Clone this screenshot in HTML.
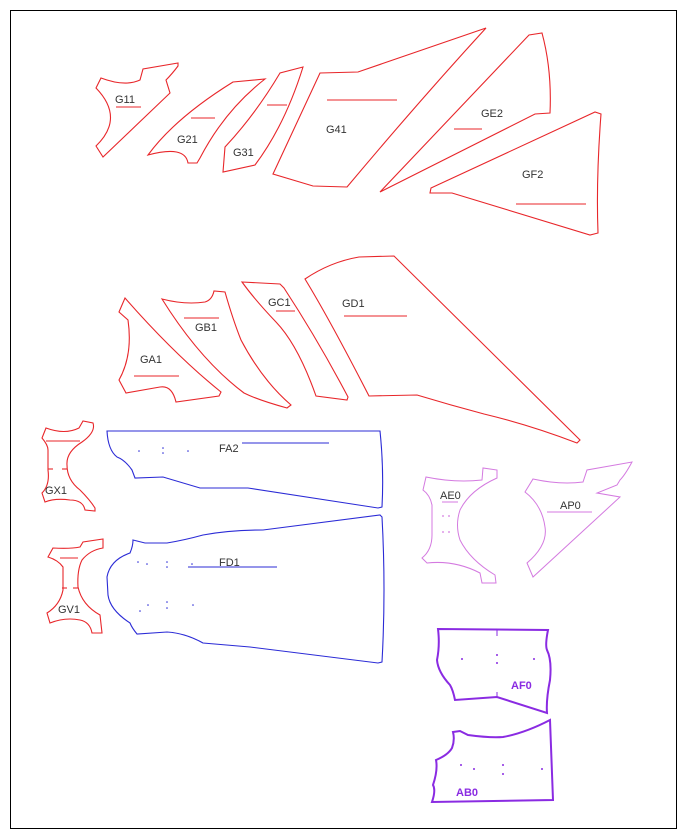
<!DOCTYPE html>
<html><head><meta charset="utf-8"><style>
html,body{margin:0;padding:0;background:#fff;}
svg{display:block;}
text{font-family:"Liberation Sans",sans-serif;font-size:11px;fill:#333;}
</style></head><body>
<svg width="685" height="837" viewBox="0 0 685 837" xmlns="http://www.w3.org/2000/svg">
<rect x="10.5" y="10.5" width="666" height="818" fill="#fff" stroke="#000" stroke-width="1"/>
<g fill="none" stroke="#e8262a" stroke-width="1.1">
<!-- G11 -->
<path d="M101,78 Q125,87 140,80 L143,69 L178,63 L178,66 Q172,74 166,80 L170,93 L103,157 L96,146 Q125,118 96,88 Z"/>
<line x1="116" y1="107" x2="141" y2="107"/>
<!-- G21 -->
<path d="M148,155 Q175,118 233,82 L265,79 Q225,110 200,158 L197,163 L188,163 Q185,145 148,155 Z"/>
<line x1="191" y1="118" x2="215" y2="118"/>
<!-- G31 -->
<path d="M223,172 L225,147 Q255,115 280,73 L303,67 Q285,125 255,165 Z"/>
<line x1="267" y1="105" x2="287" y2="105"/>
<!-- G41 -->
<path d="M273,174 L320,73 L358,72 L486,28 Q420,100 347,187 L313,186 Z"/>
<line x1="327" y1="100" x2="397" y2="100"/>
<!-- GE2 -->
<path d="M380,192 L529,35 L542,33 Q552,70 550,113 L535,114 Z"/>
<line x1="454" y1="129" x2="482" y2="129"/>
<!-- GF2 -->
<path d="M430,193 L431,188 L595,112 L601,114 Q596,180 598,233 L590,235 L452,193 Z"/>
<line x1="516" y1="204" x2="586" y2="204"/>
<!-- GA1 -->
<path d="M119,312 L125,298 Q175,355 221,392 L219,396 L176,402 Q172,385 160,387 L126,393 L119,380 Q133,355 128,320 Z"/>
<line x1="134" y1="376" x2="179" y2="376"/>
<!-- GB1 -->
<path d="M162,299 Q185,305 205,302 Q212,300 214,291 L225,292 Q233,320 241,340 Q262,380 291,405 L287,408 Q258,400 244,393 Q200,360 162,299 Z"/>
<line x1="184" y1="318" x2="219" y2="318"/>
<!-- GC1 -->
<path d="M242,282 L280,284 L284,288 Q318,340 348,397 L347,400 L316,396 Q298,345 276,322 Q255,300 242,282 Z"/>
<line x1="276" y1="311" x2="295" y2="311"/>
<!-- GD1 -->
<path d="M305,279 Q330,262 359,257 L394,256 L580,440 L577,443 Q530,425 484,414 Q450,405 417,395 L369,396 Q330,320 305,279 Z"/>
<line x1="344" y1="316" x2="407" y2="316"/>
<!-- GX1 -->
<path d="M46,428 Q65,435 79,428 L83,421 L93,423 Q96,432 82,442 Q66,452 67,465 Q67,480 80,490 Q90,500 95,508 L95,511 L85,510 Q83,500 70,500 Q55,498 45,502 L42,493 Q50,485 48,470 L48,450 Q48,445 42,438 Z"/>
<line x1="46" y1="441" x2="80" y2="441"/>
<line x1="48" y1="469" x2="53" y2="469"/><line x1="62" y1="469" x2="67" y2="469"/>
<!-- GV1 -->
<path d="M48,557 L53,548 Q70,549 80,547 L83,542 L103,539 L103,548 Q90,550 82,560 Q77,570 78,587 Q82,605 100,615 L102,633 L92,633 Q90,622 80,620 Q65,617 50,623 L47,613 Q60,605 63,590 L63,567 Q58,560 48,557 Z"/>
<line x1="60" y1="558" x2="78" y2="558"/>
<line x1="62" y1="588" x2="67" y2="588"/><line x1="73" y1="588" x2="78" y2="588"/>
</g>
<g fill="none" stroke="#2b2bd6" stroke-width="1.1">
<path d="M107,431 L380,431 Q384,470 382,507 L378,508 L248,488 L200,488 L163,477 L135,478 L132,470 Q125,460 117,457 Q108,450 107,431 Z"/>
<line x1="242" y1="443" x2="329" y2="443"/>
<path d="M133,540 L145,543 L167,543 Q185,540 203,535 Q230,530 263,530 L380,515 L382,517 Q386,590 382,662 L378,663 L250,647 L203,643 Q185,633 167,632 L137,634 Q132,628 130,623 Q110,610 108,595 L107,577 Q110,560 130,553 Q133,546 133,540 Z"/>
<line x1="188" y1="567" x2="277" y2="567"/>
</g>
<g fill="#2b2bd6">
<circle cx="139" cy="451" r="0.8"/><circle cx="163" cy="448" r="0.8"/><circle cx="163" cy="453" r="0.8"/><circle cx="188" cy="451" r="0.8"/>
<circle cx="138" cy="562" r="0.8"/><circle cx="147" cy="564" r="0.8"/><circle cx="167" cy="562" r="0.8"/><circle cx="167" cy="567" r="0.8"/><circle cx="192" cy="564" r="0.8"/>
<circle cx="140" cy="611" r="0.8"/><circle cx="148" cy="605" r="0.8"/><circle cx="167" cy="602" r="0.8"/><circle cx="167" cy="608" r="0.8"/><circle cx="193" cy="605" r="0.8"/>
</g>
<g fill="none" stroke="#d47ae0" stroke-width="1">
<path d="M426,477 Q455,483 482,480 L483,468 L497,470 L497,478 Q470,490 460,510 Q455,525 460,540 Q470,560 495,575 L496,583 L482,583 L480,573 Q455,560 427,563 L422,558 Q432,550 432,535 L432,505 Q430,495 423,490 Z"/>
<line x1="442" y1="502" x2="458" y2="502"/>
<path d="M525,492 L533,479 Q560,485 583,482 L587,470 L632,462 Q625,475 620,480 L617,485 L597,493 L620,497 L533,577 L527,563 Q548,545 545,527 Q542,505 525,492 Z"/>
<line x1="547" y1="512" x2="592" y2="512"/>
</g>
<g fill="#d47ae0">
<circle cx="443" cy="516" r="0.9"/><circle cx="449" cy="516" r="0.9"/><circle cx="443" cy="532" r="0.9"/><circle cx="449" cy="532" r="0.9"/>
</g>
<g fill="none" stroke="#8a2be2" stroke-width="2">
<path d="M438,629 L548,630 Q545,645 547,650 Q552,660 550,680 Q546,700 547,713 L497,697 L455,700 Q453,690 450,685 Q438,672 437,660 Q440,645 438,629 Z"/>
<path d="M453,732 L460,731 L468,735 Q490,738 503,737 Q525,733 550,720 L553,800 L432,802 Q436,790 433,785 Q438,770 436,760 Q448,755 452,748 Q455,740 453,732 Z"/>
<line x1="497" y1="630" x2="497" y2="636" stroke-width="1"/><line x1="497" y1="692" x2="497" y2="698" stroke-width="1"/>
</g>
<g fill="#8a2be2">
<circle cx="462" cy="659" r="1"/><circle cx="497" cy="655" r="1"/><circle cx="497" cy="663" r="1"/><circle cx="534" cy="659" r="1"/>
<circle cx="461" cy="765" r="1"/><circle cx="474" cy="769" r="1"/><circle cx="503" cy="765" r="1"/><circle cx="503" cy="774" r="1"/><circle cx="542" cy="769" r="1"/>
</g>
<text x="115" y="103" font-size="12">G11</text>
<text x="177" y="143" font-size="12">G21</text>
<text x="233" y="156">G31</text>
<text x="326" y="133" font-size="12">G41</text>
<text x="481" y="117" font-size="12">GE2</text>
<text x="522" y="178" font-size="12">GF2</text>
<text x="140" y="363">GA1</text>
<text x="195" y="331">GB1</text>
<text x="268" y="306">GC1</text>
<text x="342" y="307">GD1</text>
<text x="45" y="494">GX1</text>
<text x="58" y="613">GV1</text>
<text x="219" y="452">FA2</text>
<text x="219" y="566">FD1</text>
<text x="440" y="499" font-size="10">AE0</text>
<text x="560" y="509" font-size="10">AP0</text>
<text x="511" y="689" font-size="12" font-weight="bold" style="fill:#8a2be2">AF0</text>
<text x="456" y="796" font-size="12" font-weight="bold" style="fill:#8a2be2">AB0</text>
</svg>
</body></html>
